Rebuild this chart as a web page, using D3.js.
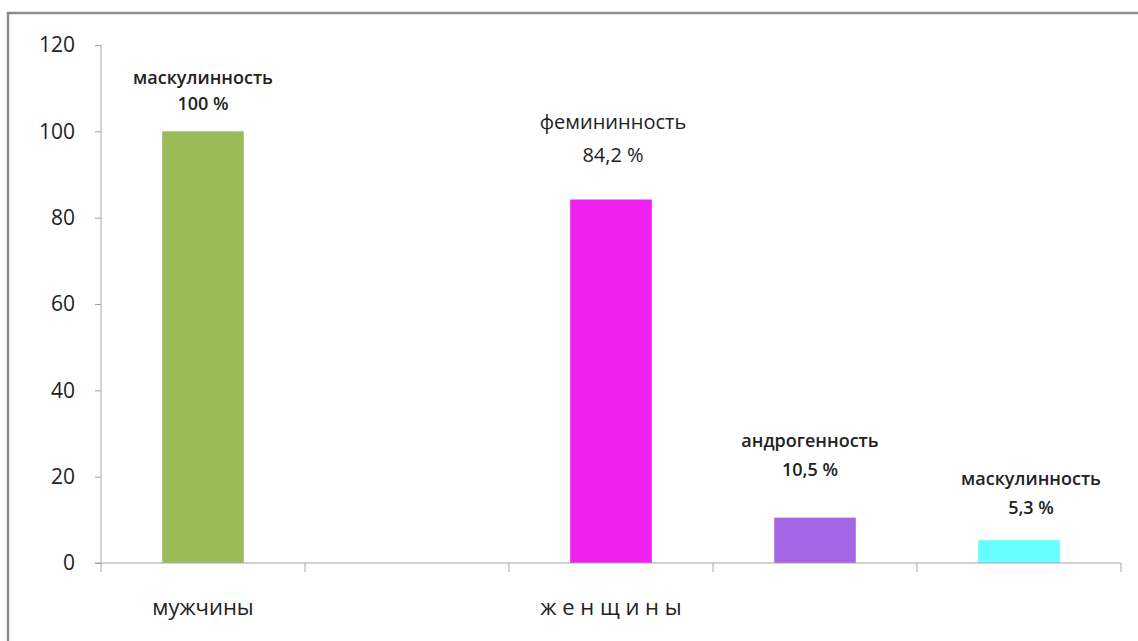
<!DOCTYPE html>
<html>
<head>
<meta charset="utf-8">
<script src="https://cdn.jsdelivr.net/npm/d3@7/dist/d3.min.js"></script>
<style>
  body { margin: 0; background: #fff; }
  svg text { font-family: "Open Sans", "Noto Sans", sans-serif; fill: #222; }
</style>
</head>
<body>
<div id="chart"></div>
<script>
// slots along the x axis; bars sit in slots 0, 2, 3, 4
var slots = [0, 1, 2, 3, 4];
var groupLabels = ["мужчины", "", "ж е н щ и н ы", "", ""];
var barSlots = [0, 2, 3, 4];
var barValues = [100, 84.2, 10.5, 5.3];
var barNames = ["маскулинность", "фемининность", "андрогенность", "маскулинность"];
var barPercents = ["100 %", "84,2 %", "10,5 %", "5,3 %"];
var barColors = ["#9bbb59", "#f020f0", "#a566e6", "#66ffff"];
var yTicks = [0, 20, 40, 60, 80, 100, 120];

// label blocks were placed by hand in the original: lift above bar, line gap, x shift, size
var labelLift = [21, 38, 42, 26];
var labelGap = [26, 33, 29, 29];
var labelShift = [0, 2, -5, 12];
var labelSize = [18, 20, 18, 18];
var labelWeight = ["600", "normal", "600", "600"];

var width = 1138;
var height = 641;
var plotL = 101, plotR = 1121, plotT = 45, plotB = 563;

var svg = d3.select("#chart").append("svg")
  .attr("width", width)
  .attr("height", height);

// outer frame (only top and left edges are visible in the shot)
svg.append("path")
  .attr("d", "M8,641 V13 H1138")
  .attr("fill", "none")
  .attr("stroke", "#8c8c8c")
  .attr("stroke-width", 2.5);

var x = d3.scaleBand()
  .domain(slots)
  .range([plotL, plotR]);

var y = d3.scaleLinear()
  .domain([0, 120])
  .range([plotB, plotT]);

var yAxis = svg.append("g")
  .attr("transform", "translate(" + plotL + ",0)")
  .call(d3.axisLeft(y).tickValues(yTicks).tickSize(6).tickPadding(20));
yAxis.select(".domain").attr("stroke", "#a6a6a6").attr("d", "M0," + plotT + "V" + plotB);
yAxis.selectAll(".tick line").attr("stroke", "#a6a6a6");
yAxis.selectAll(".tick text")
  .style("font-size", "21px")
  .attr("fill", "#222");

var barW = x.bandwidth() * 0.4;

svg.selectAll("rect.bar")
  .data(barValues)
  .enter().append("rect")
  .attr("class", "bar")
  .attr("x", function(d, i) { return x(barSlots[i]) + (x.bandwidth() - barW) / 2; })
  .attr("y", function(d) { return y(d); })
  .attr("width", barW)
  .attr("height", function(d) { return y(0) - y(d); })
  .attr("fill", function(d, i) { return barColors[i]; });

// x axis with boundary ticks between slots
var xAxis = svg.append("g");
xAxis.append("line")
  .attr("x1", plotL - 6).attr("x2", plotR)
  .attr("y1", plotB).attr("y2", plotB)
  .attr("stroke", "#a6a6a6");
xAxis.selectAll("line.tk")
  .data(slots.concat([slots.length]))
  .enter().append("line")
  .attr("class", "tk")
  .attr("x1", function(d) { return d < slots.length ? x(d) : plotR; })
  .attr("x2", function(d) { return d < slots.length ? x(d) : plotR; })
  .attr("y1", plotB)
  .attr("y2", plotB + 9)
  .attr("stroke", "#a6a6a6");

svg.selectAll("text.group")
  .data(groupLabels)
  .enter().append("text")
  .attr("class", "group")
  .attr("x", function(d, i) { return x(slots[i]) + x.bandwidth() / 2; })
  .attr("y", 615)
  .attr("text-anchor", "middle")
  .style("font-size", "22px")
  .text(function(d) { return d; });

var labels = svg.selectAll("g.lbl")
  .data(barValues)
  .enter().append("g")
  .attr("class", "lbl")
  .attr("transform", function(d, i) {
    var cx = x(barSlots[i]) + x.bandwidth() / 2 + labelShift[i];
    return "translate(" + cx + "," + (y(d) - labelLift[i]) + ")";
  });

labels.append("text")
  .attr("text-anchor", "middle")
  .attr("y", function(d, i) { return -labelGap[i]; })
  .style("font-size", function(d, i) { return labelSize[i] + "px"; })
  .style("font-weight", function(d, i) { return labelWeight[i]; })
  .text(function(d, i) { return barNames[i]; });

labels.append("text")
  .attr("text-anchor", "middle")
  .attr("y", 0)
  .style("font-size", function(d, i) { return labelSize[i] + "px"; })
  .style("font-weight", function(d, i) { return labelWeight[i]; })
  .text(function(d, i) { return barPercents[i]; });
</script>
</body>
</html>
